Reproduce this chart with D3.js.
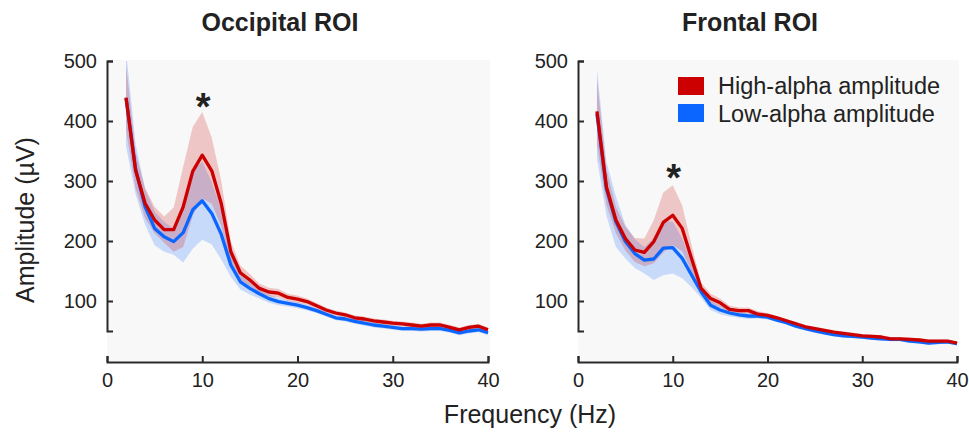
<!DOCTYPE html>
<html>
<head>
<meta charset="utf-8">
<script src="https://cdn.jsdelivr.net/npm/d3@7"></script>
<style>
  html, body { margin: 0; padding: 0; background: #ffffff; }
  svg { display: block; }
  text { font-family: "Liberation Sans", Arial, Helvetica, sans-serif; fill: #222; }
</style>
</head>
<body>
<svg id="chart" width="969" height="434"></svg>
<script>
// ---------------- data ----------------
const freqs = [2,3,4,5,6,7,8,9,10,11,12,13,14,15,16,17,18,19,20,21,22,23,24,25,26,27,28,29,30,31,32,33,34,35,36,37,38,39,40];

const occipitalHigh = [439,318,263,235,219,219,257,316,343,317,262,182,147,135,121,115,113,106,103,99,92,85,80,77,72,70,67,65,63,62,60,58,60,60,56,52,56,58,52];
const occipitalLow  = [438,320,257,221,207,199,214,252,267,246,211,160,132,121,112,104,99,96,93,89,84,78,72,70,66,63,60,58,56,54,54,53,54,54,51,47,50,52,47];
const occipitalHighSem = [55,30,25,22,22,37,67,74,72,55,38,17,12,10,8,7,7,6,6,5,5,4,4,4,4,4,4,4,4,4,4,4,4,4,4,4,4,4,4];
const occipitalLowSem  = [80,42,30,28,25,22,50,65,65,52,42,20,13,10,8,7,6,5,5,5,4,4,4,4,4,4,4,4,4,4,4,4,4,4,4,4,4,4,4];

const frontalHigh = [416,290,235,204,185,181,199,231,243,221,170,121,104,97,86,84,84,78,76,72,67,62,57,54,51,48,46,44,42,41,40,37,37,36,35,33,33,33,30];
const frontalLow  = [412,287,232,199,179,168,170,188,189,171,143,115,93,85,80,77,75,75,73,68,64,58,54,50,47,44,42,41,40,38,37,36,36,33,32,30,31,32,29];
const frontalHighSem = [55,30,22,20,20,23,36,50,50,38,22,10,8,7,6,5,5,5,4,3,3,3,3,3,3,3,3,3,3,3,3,3,3,3,3,3,3,3,3];
const frontalLowSem  = [75,45,42,28,24,22,35,45,43,33,20,10,8,7,6,5,5,4,4,3,3,3,3,3,3,3,3,3,3,3,3,3,3,3,3,3,3,3,3];

const panelTitles = ["Occipital ROI", "Frontal ROI"];
const seriesNames = ["High-alpha amplitude", "Low-alpha amplitude"];
const xTicks = [0, 10, 20, 30, 40];
const yTicks = [100, 200, 300, 400, 500];
const starFreq = 10;
const starValues = [435, 316];

// ---------------- styles ----------------
const RED = "#cc0000";
const BLUE = "#0a66ff";
const AXIS = "#2a2a2a";

const svg = d3.select("#chart");

const panels = [
  { title: panelTitles[0], x0: 107, x1: 488, titleX: 280, high: occipitalHigh, low: occipitalLow, highSem: occipitalHighSem, lowSem: occipitalLowSem, star: starValues[0] },
  { title: panelTitles[1], x0: 578, x1: 957, titleX: 750, high: frontalHigh, low: frontalLow, highSem: frontalHighSem, lowSem: frontalLowSem, star: starValues[1] }
];

const yTop = 61, yZero = 361, xAxisY = 362;

panels.forEach((p, i) => {
  const x = d3.scaleLinear().domain([0, 40]).range([p.x0, p.x1]);
  const y = d3.scaleLinear().domain([0, 500]).range([yZero, yTop]);

  const g = svg.append("g");

  // plot background
  g.append("rect")
    .attr("x", x(0)).attr("y", y(500) - 1)
    .attr("width", x(40) - x(0) + 2).attr("height", xAxisY - y(500) + 1)
    .attr("fill", "#f8f8f8");

  // clip
  const clipId = "clip" + i;
  svg.append("clipPath").attr("id", clipId)
    .append("rect")
    .attr("x", x(0)).attr("y", y(500))
    .attr("width", x(40) - x(0) + 4).attr("height", xAxisY - y(500));

  const plot = g.append("g").attr("clip-path", `url(#${clipId})`);

  const area = (m, s) => d3.area()
    .x((d, k) => x(freqs[k]))
    .y0((d, k) => y(m[k] - s[k]))
    .y1((d, k) => y(m[k] + s[k]))(m);

  const line = (m) => d3.line()
    .x((d, k) => x(freqs[k]))
    .y((d, k) => y(m[k]))(m);

  plot.append("path").attr("d", area(p.low, p.lowSem))
    .attr("fill", BLUE).attr("fill-opacity", 0.2);
  plot.append("path").attr("d", area(p.high, p.highSem))
    .attr("fill", RED).attr("fill-opacity", 0.2);

  plot.append("path").attr("d", line(p.low))
    .attr("fill", "none").attr("stroke", BLUE).attr("stroke-width", 3.3)
    .attr("stroke-linejoin", "round");
  plot.append("path").attr("d", line(p.high))
    .attr("fill", "none").attr("stroke", RED).attr("stroke-width", 3.3)
    .attr("stroke-linejoin", "round");

  // y axis (drawn from 50 to 500)
  const yAxisScale = d3.scaleLinear().domain([50, 500]).range([y(50), y(500)]);
  const yAxis = g.append("g")
    .attr("transform", `translate(${x(0)},0)`)
    .call(d3.axisLeft(yAxisScale).tickValues(yTicks).tickSizeInner(-6).tickSizeOuter(-6).tickPadding(10));
  yAxis.selectAll("path, line").attr("stroke", AXIS).attr("stroke-width", 2);
  yAxis.selectAll("text").style("font-size", "20px").attr("fill", "#222")
    .style("font-family", '"Liberation Sans", Arial, sans-serif');

  // x axis
  const xAxis = g.append("g")
    .attr("transform", `translate(0,${xAxisY})`)
    .call(d3.axisBottom(x).tickValues(xTicks).tickSizeInner(-6).tickSizeOuter(-6).tickPadding(11));
  xAxis.selectAll("path, line").attr("stroke", AXIS).attr("stroke-width", 2);
  xAxis.selectAll("text").style("font-size", "20px").attr("fill", "#222")
    .style("font-family", '"Liberation Sans", Arial, sans-serif');

  // title
  svg.append("text").attr("x", p.titleX).attr("y", 31)
    .attr("text-anchor", "middle")
    .style("font-size", "25px").style("font-weight", "bold")
    .attr("fill", "#111")
    .text(p.title);

  // asterisk
  svg.append("text").attr("x", x(starFreq) + 1).attr("y", y(p.star) + 20)
    .attr("text-anchor", "middle")
    .style("font-size", "38px").style("font-weight", "bold")
    .attr("fill", "#111")
    .text("*");
});

// axis labels
svg.append("text")
  .attr("transform", "translate(34,220) rotate(-90)")
  .attr("text-anchor", "middle")
  .style("font-size", "25px")
  .text("Amplitude (µV)");

svg.append("text")
  .attr("x", 530).attr("y", 423)
  .attr("text-anchor", "middle")
  .style("font-size", "25px")
  .text("Frequency (Hz)");

// legend
const legend = svg.append("g");
[RED, BLUE].forEach((c, k) => {
  legend.append("rect").attr("x", 678).attr("y", 77 + k * 27)
    .attr("width", 26).attr("height", 18).attr("fill", c);
  legend.append("text").attr("x", 718).attr("y", 93.5 + k * 28)
    .style("font-size", "23.5px")
    .text(seriesNames[k]);
});
</script>
</body>
</html>
